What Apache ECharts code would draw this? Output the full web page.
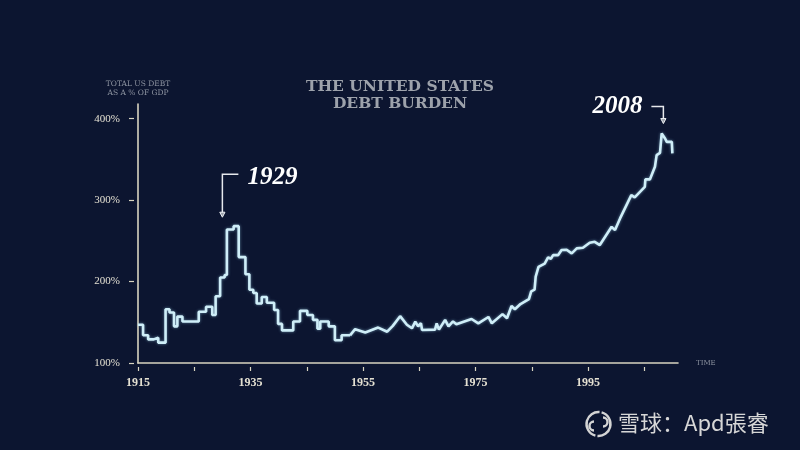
<!DOCTYPE html>
<html>
<head>
<meta charset="utf-8">
<title>The United States Debt Burden</title>
<script src="https://cdn.jsdelivr.net/npm/echarts@6/dist/echarts.min.js"></script>
<style>
  html, body { margin: 0; padding: 0; background: #0c1530; }
  #chart { width: 800px; height: 450px; }
</style>
</head>
<body>
<div id="chart"></div>
<script>
// annual steps up to the early 50s
const earlyYears = [1915, 1915.9, 1916.8, 1917.8, 1918.6, 1919.9, 1920.6, 1921.4, 1922.0, 1922.9, 1925.8, 1927.1,
  1928.2, 1928.8, 1929.6, 1930.4, 1930.8, 1932.0, 1932.9, 1934.1, 1934.8, 1935.5, 1936.1, 1937.0, 1937.9, 1939.2,
  1939.9, 1940.6, 1942.6, 1943.8, 1945.1, 1946.1, 1946.9, 1947.4, 1948.9, 1950.0, 1951.2, 1952.7];
const earlyDebt = [147, 134, 129, 131, 125, 166, 162, 145, 157, 151, 163, 169,
  159, 182, 205, 208, 264, 268, 230, 209, 190, 186, 173, 181, 174, 165,
  148, 140, 151, 164, 159, 153, 142, 151, 145, 128, 134, 134];

// finer readings afterwards
const lateYears = [1952.7, 1953.6, 1955.4, 1957.7, 1959.3, 1960.3, 1961.6, 1962.8, 1963.7, 1964.3, 1964.8, 1965.3,
  1965.5, 1967.8, 1968.1, 1968.5, 1969.6, 1970.2, 1971.0, 1971.6, 1974.3, 1975.5, 1977.3, 1977.9, 1979.8, 1980.6,
  1981.4, 1982.0, 1983.0, 1984.5, 1984.9, 1985.5, 1985.7, 1986.2, 1987.3, 1987.9, 1988.4, 1988.8, 1989.7, 1990.3,
  1991.2, 1992.1, 1993.0, 1994.1, 1995.3, 1996.2, 1997.1, 1999.2, 1999.8, 2000.7, 2002.7, 2003.3, 2005.1, 2005.2,
  2006.0, 2006.9, 2007.2, 2007.8, 2008.1, 2008.7, 2009.0, 2009.9, 2010.0];
const lateDebt = [134, 141.5, 137.5, 143.5, 138.4, 145.6, 157.5, 147, 142.6, 150.7, 145, 149,
  140.5, 141, 148.7, 141, 153, 145, 151, 147.5, 154, 148.7, 156.5, 148.7, 160, 155,
  170, 166, 172.4, 178.5, 188, 190, 206, 218, 222, 229.7, 228, 232.5, 232.5, 238.7,
  239, 234.6, 240.7, 241.5, 247.6, 248.8, 244.8, 267.2, 263.2, 277.5, 306.1, 303.3, 316.3, 325.4,
  325.4, 341, 355.2, 358, 381.8, 375.7, 371.5, 371.5, 357.3];

const xTickYears = [1915, 1925, 1935, 1945, 1955, 1965, 1975, 1985, 1995, 2005];
const xLabelYears = [1915, 1935, 1955, 1975, 1995];
const yTicks = [100, 200, 300, 400];

const eventLabels = ["1929", "2008"];
const eventYears = [1930, 2008.4];
const eventValues = [279, 394];

const xMin = 1915, xMax = 2011, yMin = 100, yMax = 418;

const axisColor = "#d8d4c0";
const labelColor = "#e4e0d2";
const noteColor = "#8e94a1";
const lineColor = "#cfeef8";

const chart = echarts.init(document.getElementById("chart"), null, { renderer: "canvas" });

const zip = (xs, ys) => xs.map((x, i) => [x, ys[i]]);

const lineStyle = {
  width: 2.6,
  color: lineColor,
  shadowColor: "rgba(160, 215, 240, 0.55)",
  shadowBlur: 3
};

chart.setOption({
  backgroundColor: "#0c1530",
  animation: false,
  title: {
    text: "THE UNITED STATES\nDEBT BURDEN",
    left: "center",
    top: 73,
    textStyle: {
      fontFamily: "DejaVu Serif",
      fontWeight: "bold",
      fontSize: 15.5,
      lineHeight: 17,
      color: "#9da2ab",
      align: "center"
    }
  },
  grid: { left: 138, right: 122, top: 104, bottom: 87 },
  xAxis: [
    {
      type: "value",
      min: xMin,
      max: xMax,
      name: "TIME",
      nameLocation: "end",
      nameGap: 18,
      nameTextStyle: { fontFamily: "DejaVu Serif", fontSize: 7, color: noteColor, verticalAlign: "middle" },
      axisLine: { lineStyle: { color: axisColor, width: 1.6 } },
      axisTick: { show: false },
      splitLine: { show: false },
      axisLabel: {
        customValues: xLabelYears,
        margin: 14,
        color: labelColor,
        fontFamily: "Liberation Serif",
        fontWeight: "bold",
        fontSize: 12,
        formatter: (v) => String(v)
      }
    },
    {
      type: "value",
      min: xMin,
      max: xMax,
      position: "bottom",
      offset: 4,
      axisLine: { show: false },
      axisTick: { show: true, customValues: xTickYears, length: 4, lineStyle: { color: axisColor, width: 1.2 } },
      axisLabel: { show: false },
      splitLine: { show: false }
    }
  ],
  yAxis: [
    {
      type: "value",
      min: yMin,
      max: yMax,
      name: "TOTAL US DEBT\nAS A % OF GDP",
      nameLocation: "end",
      nameGap: 6,
      nameTextStyle: {
        fontFamily: "DejaVu Serif",
        fontSize: 7.5,
        lineHeight: 9,
        color: noteColor,
        align: "center",
        verticalAlign: "bottom"
      },
      axisLine: { show: true, lineStyle: { color: axisColor, width: 1.6 } },
      axisTick: { show: false },
      splitLine: { show: false },
      axisLabel: {
        customValues: yTicks,
        margin: 18,
        color: labelColor,
        fontFamily: "Liberation Serif",
        fontSize: 11,
        formatter: (v) => v + "%"
      }
    },
    {
      type: "value",
      min: yMin,
      max: yMax,
      position: "left",
      offset: 4,
      axisLine: { show: false },
      axisTick: { show: true, customValues: yTicks, length: 5, lineStyle: { color: axisColor, width: 1.2 } },
      axisLabel: { show: false },
      splitLine: { show: false }
    }
  ],
  series: [
    {
      name: "early",
      type: "line",
      step: "end",
      symbol: "none",
      lineStyle,
      data: zip(earlyYears, earlyDebt)
    },
    {
      name: "late",
      type: "line",
      symbol: "none",
      lineStyle,
      data: zip(lateYears, lateDebt)
    }
  ]
});

// annotation callouts, anchored on the data point the arrow tip sits on
function buildNotes() {
  const els = [];
  const rise = [43, 17];
  const side = [1, -1];
  const arm = [16, 12];
  eventLabels.forEach((label, i) => {
    const [tx, ty] = chart.convertToPixel({ xAxisIndex: 0, yAxisIndex: 0 }, [eventYears[i], eventValues[i]]);
    const cy = ty - rise[i];
    const ex = tx + side[i] * arm[i];
    els.push({
      type: "polyline",
      shape: { points: [[ex, cy], [tx, cy], [tx, ty - 4]] },
      style: { stroke: "#e6e8ec", lineWidth: 1.5, fill: null }
    });
    els.push({
      type: "polygon",
      shape: { points: [[tx - 2.6, ty - 5], [tx + 2.6, ty - 5], [tx, ty]] },
      style: { fill: "#9aa0aa", stroke: "#eef0f3", lineWidth: 1 }
    });
    els.push({
      type: "text",
      x: ex + side[i] * 9,
      y: cy + (i === 0 ? 3 : 0),
      style: {
        text: label,
        fontFamily: "Liberation Serif",
        fontStyle: "italic",
        fontWeight: "bold",
        fontSize: 25,
        fill: "#ffffff",
        align: side[i] > 0 ? "left" : "right",
        verticalAlign: "middle",
        shadowColor: "rgba(0,0,0,0.6)",
        shadowBlur: 3
      }
    });
  });

  // watermark: round logo and name
  const logo = { stroke: "#d4d4d4", lineWidth: 2.4, fill: null };
  const deg = Math.PI / 180;
  els.push({
    type: "group",
    children: [
      { type: "arc", shape: { cx: 598.5, cy: 424, r: 12, startAngle: -75 * deg, endAngle: 95 * deg, clockwise: true }, style: logo },
      { type: "arc", shape: { cx: 598.5, cy: 424, r: 12, startAngle: 105 * deg, endAngle: 275 * deg, clockwise: true }, style: logo },
      { type: "arc", shape: { cx: 594, cy: 426, r: 4.5, startAngle: -90 * deg, endAngle: 90 * deg, clockwise: false }, style: logo },
      { type: "arc", shape: { cx: 603, cy: 422, r: 4.5, startAngle: 90 * deg, endAngle: 270 * deg, clockwise: false }, style: logo },
      { type: "text", x: 618, y: 423,
        style: { text: "雪球：Apd張睿", fontFamily: "Noto Sans CJK SC", fontSize: 22, fill: "#d6d6d6",
          verticalAlign: "middle", shadowColor: "rgba(0,0,0,0.5)", shadowBlur: 2 } }
    ]
  });
  chart.setOption({ graphic: els });
}

buildNotes();
window.addEventListener("resize", () => { chart.resize(); buildNotes(); });
</script>
</body>
</html>
